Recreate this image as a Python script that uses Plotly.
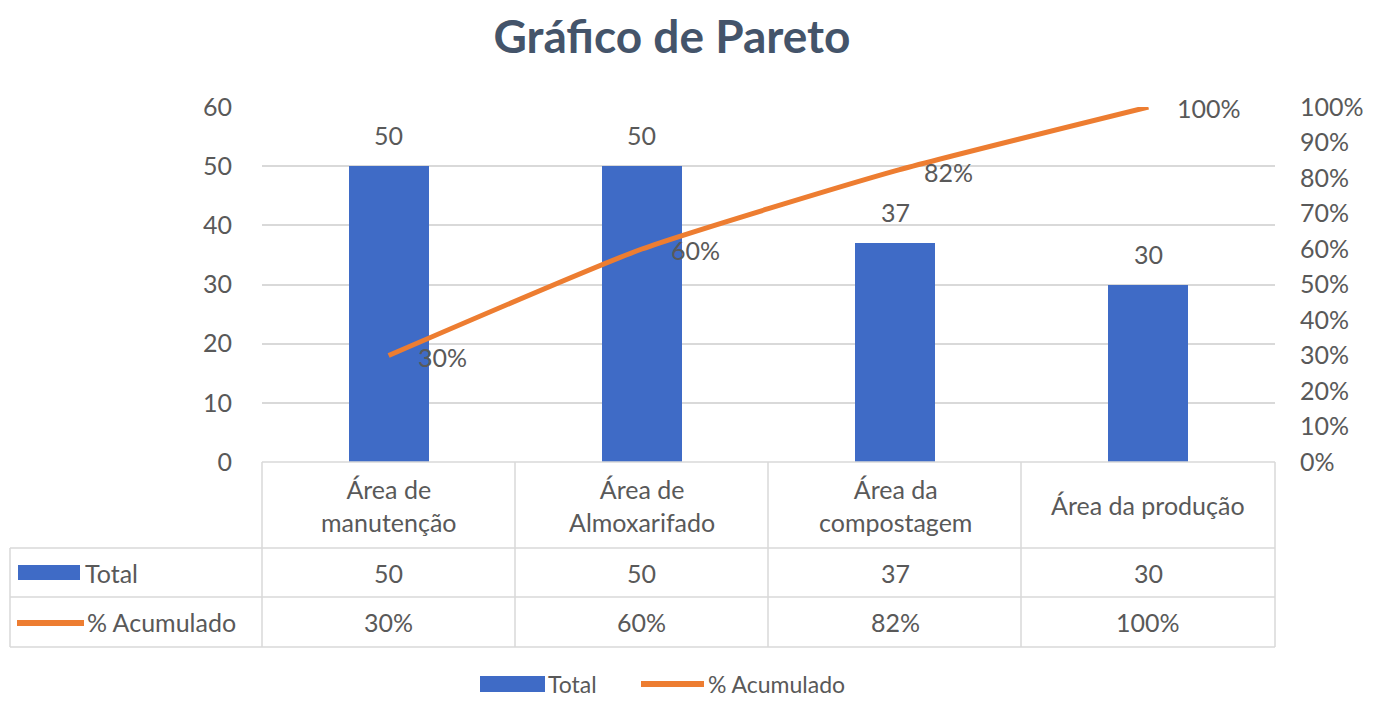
import plotly.graph_objects as go

# ---- data ----
categories = ["Área de manutenção", "Área de Almoxarifado", "Área da compostagem", "Área da produção"]
category_labels = ["Área de<br>manutenção", "Área de<br>Almoxarifado", "Área da<br>compostagem", "Área da produção"]
totals = [50, 50, 37, 30]
cumulative_pct = [0.30, 0.60, 0.82, 1.00]
cumulative_labels = ["30%", "60%", "82%", "100%"]
series_names = ["Total", "% Acumulado"]

# ---- style ----
OFF = 8  # page body margin
W, H = 1389 - 2 * OFF, 705 - 2 * OFF
L, R, T, B = 262, 1275, 107, 462  # plot area in window pixels
PW, PH = R - L, B - T
FONT = "Lato, Open Sans, sans-serif"
FS = 25
TXT = "#595959"
BLUE = "#3F6BC6"
ORANGE = "#ED7D31"
GRID = "#D9D9D9"

def px(x):
    return (x - L) / PW

def py(y):
    return (B - y) / PH

fig = go.Figure()
fig.add_trace(go.Bar(
    x=categories, y=totals, name=series_names[0],
    marker=dict(color=BLUE, line=dict(width=0)),
    width=0.316, showlegend=False,
))
fig.add_trace(go.Scatter(
    x=categories, y=cumulative_pct, name=series_names[1], yaxis="y2",
    mode="lines", line=dict(color=ORANGE, width=5, shape="spline", smoothing=0.5),
    cliponaxis=False, showlegend=False,
))

shapes = []
line_style = dict(color=GRID, width=1.5)
for xv in [262, 515, 768, 1021, 1275]:
    shapes.append(dict(type="line", xref="paper", yref="paper", x0=px(xv), x1=px(xv),
                       y0=py(462), y1=py(647), line=line_style))
shapes.append(dict(type="line", xref="paper", yref="paper", x0=px(10), x1=px(10),
                   y0=py(548), y1=py(647), line=line_style))
shapes.append(dict(type="line", xref="paper", yref="paper", x0=px(262), x1=px(1275),
                   y0=py(462), y1=py(462), line=line_style))
for yv in [548, 597, 647]:
    shapes.append(dict(type="line", xref="paper", yref="paper", x0=px(10), x1=px(1275),
                       y0=py(yv), y1=py(yv), line=line_style))

# legend keys in table
shapes.append(dict(type="rect", xref="paper", yref="paper", x0=px(18), x1=px(80),
                   y0=py(580), y1=py(565), fillcolor=BLUE, line=dict(width=0)))
shapes.append(dict(type="line", xref="paper", yref="paper", x0=px(17), x1=px(84),
                   y0=py(623), y1=py(623), line=dict(color=ORANGE, width=6)))
# bottom legend keys
LEG_Y = 684
shapes.append(dict(type="rect", xref="paper", yref="paper", x0=px(480), x1=px(545),
                   y0=py(LEG_Y + 8), y1=py(LEG_Y - 8), fillcolor=BLUE, line=dict(width=0)))
shapes.append(dict(type="line", xref="paper", yref="paper", x0=px(641), x1=px(704),
                   y0=py(LEG_Y), y1=py(LEG_Y), line=dict(color=ORANGE, width=6)))

annotations = []
tf = dict(family=FONT, size=FS, color=TXT)
for cat, lab, tot, pct, pl in zip(categories, category_labels, totals, cumulative_pct, cumulative_labels):
    # bar data labels
    annotations.append(dict(x=cat, xref="x", y=tot, yref="y", text=str(tot), showarrow=False,
                            font=tf, xanchor="center", yanchor="middle", yshift=31))
    # line data labels
    annotations.append(dict(x=cat, xref="x", y=pct, yref="y2", text=pl, showarrow=False,
                            font=tf, xanchor="left", yanchor="middle", xshift=27, yshift=-1))
    # table cells
    annotations.append(dict(x=cat, xref="x", y=py(505), yref="paper", text=lab, showarrow=False,
                            font=tf, xanchor="center", yanchor="middle", align="center"))
    annotations.append(dict(x=cat, xref="x", y=py(573), yref="paper", text=str(tot), showarrow=False,
                            font=tf, xanchor="center", yanchor="middle"))
    annotations.append(dict(x=cat, xref="x", y=py(622), yref="paper", text=pl, showarrow=False,
                            font=tf, xanchor="center", yanchor="middle"))
annotations.append(dict(x=px(83), xref="paper", y=py(573), yref="paper", text=series_names[0],
                        showarrow=False, font=tf, xanchor="left", yanchor="middle"))
annotations.append(dict(x=px(85), xref="paper", y=py(622), yref="paper", text=series_names[1],
                        showarrow=False, font=tf, xanchor="left", yanchor="middle"))
lf = dict(family=FONT, size=23, color=TXT)
annotations.append(dict(x=px(546), xref="paper", y=py(LEG_Y), yref="paper", text=series_names[0],
                        showarrow=False, font=lf, xanchor="left", yanchor="middle"))
annotations.append(dict(x=px(706), xref="paper", y=py(LEG_Y), yref="paper", text=series_names[1],
                        showarrow=False, font=lf, xanchor="left", yanchor="middle"))

fig.update_layout(
    width=W, height=H,
    margin=dict(l=L - OFF, r=W - (R - OFF), t=T - OFF, b=H - (B - OFF), pad=0),
    paper_bgcolor="white", plot_bgcolor="white",
    title=dict(text="<b>Gráfico de Pareto</b>", x=((487 + 857) / 2 - OFF) / W, xanchor="center",
               y=1 - (37 - OFF) / H, yanchor="middle",
               font=dict(family=FONT, size=46, color="#44546A")),
    xaxis=dict(showticklabels=False, showgrid=False, zeroline=False, showline=False,
               range=[-0.5, 3.5]),
    yaxis=dict(range=[0, 60], dtick=10, showgrid=True, gridcolor=GRID, gridwidth=1.5,
               zeroline=False, showline=False, ticks="", ticklabelstandoff=29,
               tickfont=dict(family=FONT, size=FS, color=TXT)),
    yaxis2=dict(range=[0, 1], dtick=0.1, tickformat=".0%", overlaying="y", side="right",
                showgrid=False, zeroline=False, showline=False, ticks="", ticklabelstandoff=24,
                tickfont=dict(family=FONT, size=FS, color=TXT)),
    shapes=shapes, annotations=annotations,
    bargap=0,
)

fig.write_html("out.html")
